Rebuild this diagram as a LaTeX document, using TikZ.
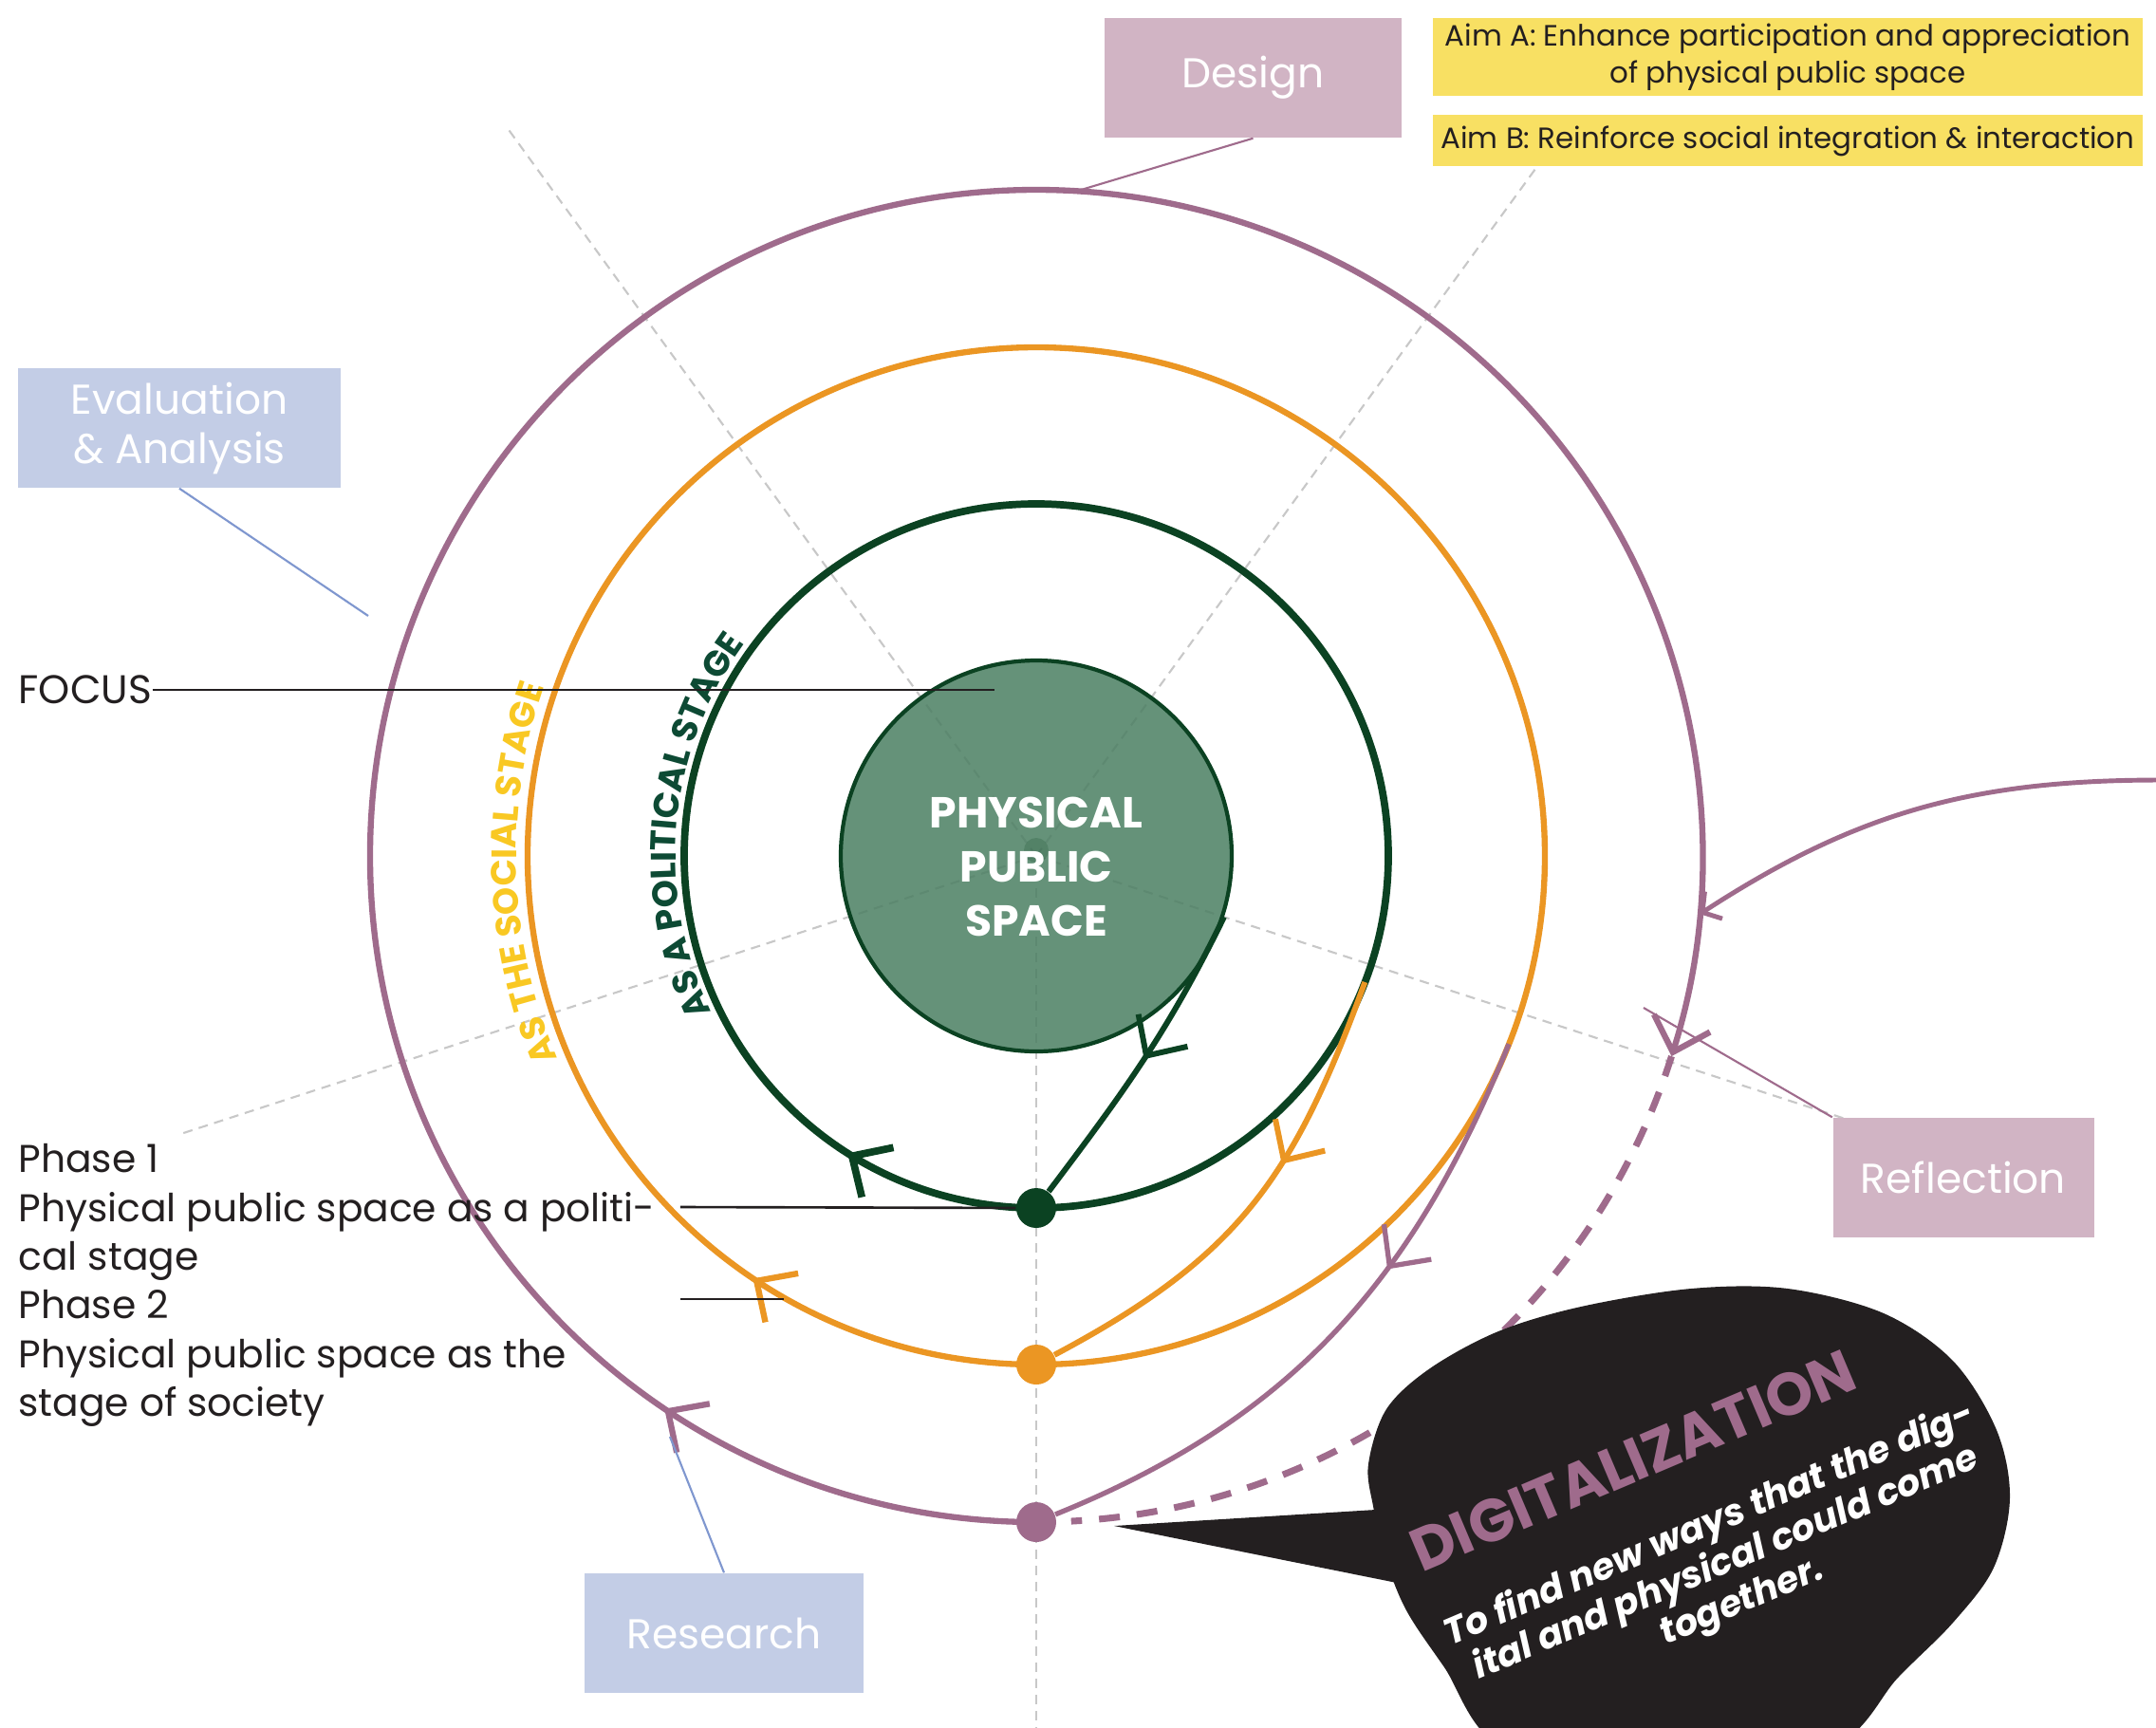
\documentclass[tikz,border=0pt]{standalone}
\usepackage{fontspec}
\setmainfont{Poppins}
\usetikzlibrary{positioning,arrows.meta,decorations.markings,decorations.text}

\definecolor{plum}{HTML}{9F6B8C}
\definecolor{pinkfill}{HTML}{D1B4C4}
\definecolor{bluefill}{HTML}{C3CDE6}
\definecolor{blueline}{HTML}{7F97CF}
\definecolor{amber}{HTML}{EB9623}
\definecolor{pine}{HTML}{0B4222}
\definecolor{sage}{HTML}{4B7F62}
\definecolor{aimyellow}{HTML}{F8E063}
\definecolor{sunyellow}{HTML}{F9C823}
\definecolor{ink}{HTML}{231F20}
\definecolor{raygray}{HTML}{C8C8C8}
\definecolor{polgreen}{HTML}{0D4A34}

\tikzset{
  vtip/.tip={Straight Barb[length=3.2mm,width=6.2mm]},
  midarrow/.style={postaction={decorate,decoration={markings,mark=at position #1 with {\arrow{vtip}}}}},
  ray/.style={raygray, line width=0.6pt, dash pattern=on 1mm off 0.7mm},
  ringdot/.style={circle, inner sep=0pt, minimum size=0.42cm},
  stagebox/.style={minimum height=1.26cm, inner sep=0pt, text=white, align=center, font=\fontsize{12.5}{14.8}\selectfont},
  aimbox/.style={fill=aimyellow, text=ink, minimum width=7.48cm, inner sep=0pt, align=center, font=\fontsize{8.8}{11}\selectfont},
  thinline/.style={line width=0.6pt},
}

\begin{document}
\begin{tikzpicture}
\useasboundingbox (-10.92,-9.18) rectangle (11.80,9.02);
\clip (-10.92,-9.18) rectangle (11.80,9.02);
\fill[white] (-10.92,-9.18) rectangle (11.80,9.02);
\coordinate (O) at (0,0);
\foreach \a [count=\i] in {54,126,198,270,342}
{
  \path (\a:9.5) coordinate (R\i);
  \draw[ray] (O) -- (R\i);
}
\node[circle, fill=sage, fill opacity=0.85, draw=pine, line width=1.2pt, minimum size=4.12cm, inner sep=0pt] (core) at (O) {};
\fill[pine, opacity=0.2] (0,0.06) circle (0.13);

\foreach \r/\c/\n in {3.71/pine/gdot, 5.36/amber/odot, 7.02/plum/pdot}
{
  \node[ringdot, fill=\c] (\n) at (0,-\r) {};
}

\draw[pine, line width=2.2pt, midarrow=0.09] (gdot.center) arc[start angle=270, end angle=-90, radius=3.71];
\draw[amber, line width=1.8pt, midarrow=0.094] (odot.center) arc[start angle=270, end angle=-90, radius=5.36];
\draw[plum, line width=1.8pt, midarrow=0.118, -{Straight Barb[length=3.2mm,width=6.2mm]}] (pdot.center) arc[start angle=270, end angle=-17.5, radius=7.02];
\path (-17.5:7.02) coordinate (ptail);
\draw[plum, line width=2pt, dash pattern=on 2.2mm off 1.8mm] (ptail) arc[start angle=-17.5, end angle=-87, radius=7.02];

\path (-21:3.71) coordinate (oout);
\path (-21.7:5.36) coordinate (pout);
\draw[pine, line width=1.7pt, midarrow=0.5] (core.-18) to[out=244, in=53] (gdot);
\draw[amber, line width=1.7pt, midarrow=0.4] (oout) to[out=250, in=28, looseness=1.1] (odot);
\draw[plum, line width=1.5pt, midarrow=0.38] (pout) to[out=248, in=22] (pdot);

\path (11.85,0.80) coordinate (feed);
\path (-5:7.02) coordinate (pin);
\draw[plum, line width=1.4pt, -{Straight Barb[length=1.4mm,width=3.4mm]}] (feed) to[out=180, in=33] (pin);

\path[decorate, decoration={text along path, text align=center,
  text={|\fontsize{10.6}{12}\selectfont\bfseries\color{polgreen}|AS A POLITICAL STAGE}}]
  (214.75:3.80) arc[start angle=214.75, end angle=134.75, radius=3.80];
\path[decorate, decoration={text along path, text align=center,
  text={|\fontsize{10.6}{12}\selectfont\bfseries\color{sunyellow}|AS THE SOCIAL STAGE}}]
  (222:5.48) arc[start angle=222, end angle=142, radius=5.48];

\node[text=white, align=center, font=\fontsize{13}{16.3}\selectfont\bfseries] (coretext) at (0,-0.115) {PHYSICAL\\PUBLIC\\SPACE};

\node[stagebox, fill=pinkfill, minimum width=3.13cm] (design) at (2.285,8.20) {Design};
\node[stagebox, fill=bluefill, minimum width=3.40cm] (evalbox) at (-9.03,4.51) {Evaluation\\\& Analysis};
\node[stagebox, fill=pinkfill, minimum width=2.75cm] (reflect) at (9.77,-3.39) {Reflection};
\node[stagebox, fill=bluefill, minimum width=2.94cm] (research) at (-3.29,-8.19) {Research};

\node[aimbox, minimum height=0.82cm] (aimA) at (7.92,8.42) {Aim A: Enhance participation and appreciation\\of physical public space};
\node[aimbox, minimum height=0.54cm, below=0.19cm of aimA] (aimB) {Aim B: Reinforce social integration \& interaction};

\path (86.5:7.02) coordinate (dpin);
\path (-7.04,2.53) coordinate (epin);
\path (6.40,-1.60) coordinate (fpin);
\path (-3.86,-6.12) coordinate (rpin);
\draw[plum, thinline] (design.south) -- (dpin);
\draw[blueline, thinline] (evalbox.south) -- (epin);
\draw[plum, thinline] (reflect.north west) -- (fpin);
\draw[blueline, thinline] (research.north) -- (rpin);

\fill[ink] plot[smooth cycle, tension=0.55] coordinates {(3.55,-6.85) (3.50,-6.41) (3.69,-5.83) (4.15,-5.40) (4.87,-5.01) (5.74,-4.75) (6.90,-4.56) (7.92,-4.56) (8.93,-4.82) (9.66,-5.32) (10.12,-6.05) (10.26,-6.77) (10.09,-7.50) (9.66,-8.08) (9.08,-8.66) (8.40,-9.40) (6.60,-10.0) (4.90,-9.40) (4.30,-8.55) (3.90,-7.95) (3.68,-7.40)};
\path (0.82,-7.06) coordinate (blobtip);
\fill[ink] (blobtip) -- (3.9,-6.87) -- (3.95,-7.69) -- cycle;
\node[rotate=23, text=plum, font=\fontsize{18}{20}\selectfont\bfseries] (digi) at (6.29,-6.37) {DIGITALIZATION};
\node[rotate=23, text=white, align=center, font=\fontsize{11}{12.5}\selectfont\bfseries\itshape] (digibody) at (7.27,-7.46) {To find new ways that the dig-\\ital and physical could come\\together.};

\node[anchor=west, inner sep=0pt, text=ink, font=\fontsize{12}{14}\selectfont] (focus) at (-10.73,1.75) {FOCUS};
\path (-0.44,1.75) coordinate (focuspin);
\draw[ink, line width=0.75pt] (focus.east) -- (focuspin);

\node[anchor=north west, inner sep=0pt, align=left, text=ink, font=\fontsize{11.6}{14.6}\selectfont] (phases) at (-10.73,-3.03) {Phase 1\\Physical public space as a politi-\\cal stage\\Phase 2\\Physical public space as the\\stage of society};
\path (-3.75,-3.70) coordinate (ph1);
\path (-3.75,-4.67) coordinate (ph2a);
\path (-2.66,-4.67) coordinate (ph2b);
\draw[ink, line width=0.75pt] (ph1) -- (gdot);
\draw[ink, line width=0.75pt] (ph2a) -- (ph2b);
\end{tikzpicture}
\end{document}
